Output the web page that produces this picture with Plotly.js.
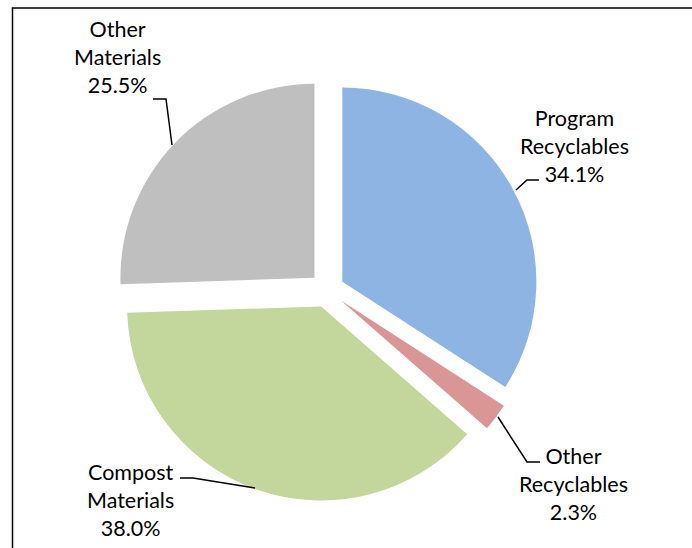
<!DOCTYPE html>
<html>
<head>
<meta charset="utf-8">
<script src="https://cdn.plot.ly/plotly-3.0.1.min.js"></script>
<style>html,body{margin:0;padding:0;background:#fff;}#chart{width:692px;height:548px;}</style>
</head>
<body>
<div id="chart"></div>
<script>
// Data
var labels = ["Program Recyclables", "Other Recyclables", "Compost Materials", "Other Materials"];
var values = [34.1, 2.3, 38.0, 25.5];
var colors = ["#8EB4E3", "#D99694", "#C3D69B", "#BFBFBF"];

var W = 692, H = 548;
function px(x) { return x / W; }
function py(y) { return 1 - y / H; }

// Label layout (pixel positions of label block centers) and leader lines
var labelPos = [[574, 146], [573, 484], [130, 500], [117.5, 56.5]];
var leaders = [
  [[539,180],[527,180],[516,190]],
  [[498,417],[527,462],[540,462]],
  [[180,478],[193,478],[255,488]],
  [[153,99],[166,99],[172,145]]
];

var total = values.reduce(function(a,b){return a+b;}, 0);
var annotations = labels.map(function(l, i) {
  var pct = (values[i] / total * 100).toFixed(1) + "%";
  return {
    xref: "paper", yref: "paper",
    x: px(labelPos[i][0]), y: py(labelPos[i][1]),
    xanchor: "center", yanchor: "middle",
    text: l.replace(" ", "<br>") + "<br>" + pct,
    showarrow: false,
    font: {family: "Lato, 'Open Sans', sans-serif", size: 21.5, color: "#000"}
  };
});

var shapes = leaders.map(function(pts) {
  var d = pts.map(function(p, k) { return (k ? "L" : "M") + px(p[0]) + "," + py(p[1]); }).join(" ");
  return {type: "path", xref: "paper", yref: "paper", path: d, line: {color: "#000", width: 1.5}};
});
shapes.push({type: "rect", xref: "paper", yref: "paper",
  x0: px(12.5), y0: -0.02, x1: 1.02, y1: py(8), line: {color: "#000", width: 1.5}});

var trace = {
  type: "pie",
  labels: labels,
  values: values,
  sort: false,
  direction: "clockwise",
  rotation: 0,
  pull: [0.09, 0.09, 0.09, 0.09],
  marker: {colors: colors, line: {width: 0}},
  textinfo: "none",
  hoverinfo: "label+percent",
  domain: {x: [px(115.5), px(538.5)], y: [py(501.5), py(78.5)]}
};

var layout = {
  width: W, height: H,
  margin: {l: 0, r: 0, t: 0, b: 0},
  showlegend: false,
  paper_bgcolor: "#fff",
  annotations: annotations,
  shapes: shapes
};

Plotly.newPlot("chart", [trace], layout, {displayModeBar: false, staticPlot: true});
</script>
</body>
</html>
